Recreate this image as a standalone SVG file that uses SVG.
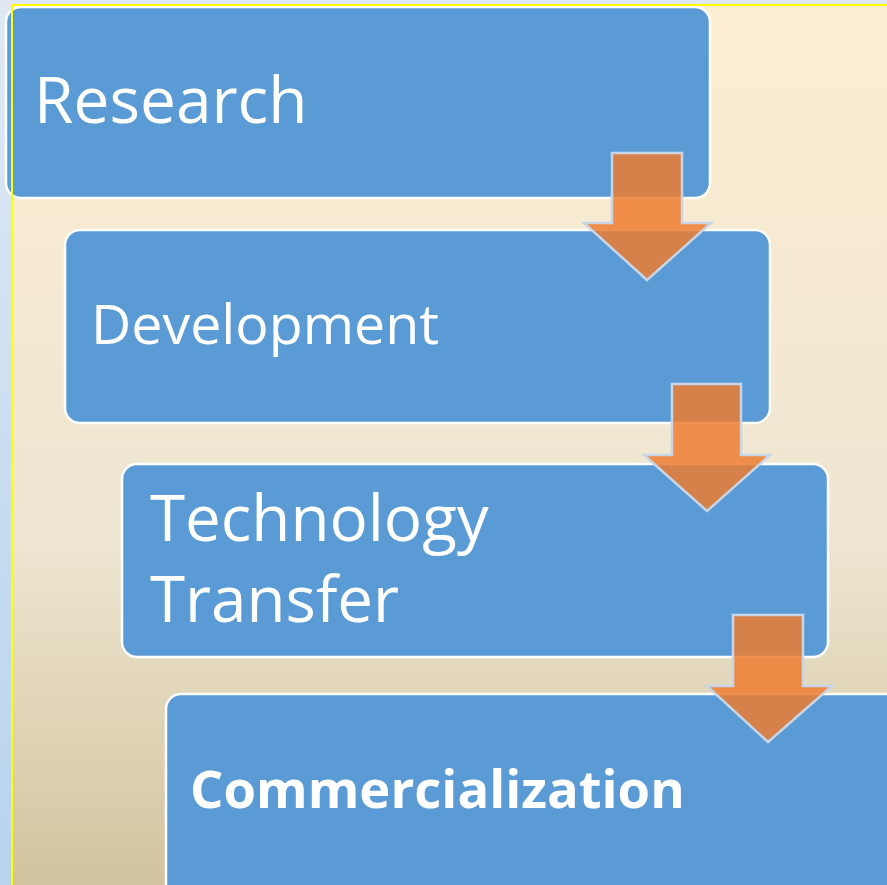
<svg xmlns="http://www.w3.org/2000/svg" width="887" height="885" viewBox="0 0 887 885">
<defs>
<linearGradient id="bg" x1="0" y1="0" x2="0" y2="1">
<stop offset="0" stop-color="#fdeed2"/>
<stop offset="0.6" stop-color="#eee6d2"/>
<stop offset="1" stop-color="#d2c49e"/>
</linearGradient>
<linearGradient id="side" x1="0" y1="0" x2="0" y2="1">
<stop offset="0" stop-color="#dfe9f4"/>
<stop offset="1" stop-color="#b7d3ee"/>
</linearGradient>
<style>
.box{fill:#5b9bd5;stroke:#ffffff;stroke-width:2.5}
.t{font-family:"Open Sans","DejaVu Sans",sans-serif;fill:#ffffff}
.arr{fill:#ed7d31;fill-opacity:0.85;stroke:#c8d5e6;stroke-width:2.5;stroke-linejoin:miter}
</style>
</defs>
<rect x="0" y="0" width="887" height="885" fill="url(#side)"/>
<rect x="0" y="0" width="887" height="6" fill="#dfe8f2"/>
<rect x="12" y="5" width="875" height="880" fill="url(#bg)"/>
<g id="research">
<rect class="box" x="6" y="7" width="704" height="191" rx="15"/>
<text class="t" x="34" y="123" font-size="64">Research</text>
</g>
<g id="development">
<rect class="box" x="65" y="230" width="705" height="193" rx="15"/>
<text class="t" x="91" y="344" font-size="55.5">Development</text>
</g>
<g id="techtransfer">
<rect class="box" x="122" y="464" width="706" height="193" rx="15"/>
<text class="t" x="150" y="541" font-size="63.7">Technology</text>
<text class="t" x="150" y="622" font-size="63.7">Transfer</text>
</g>
<g id="commercialization">
<rect class="box" x="166" y="694" width="740" height="210" rx="15"/>
<text class="t" x="190" y="808" font-size="52.6" font-weight="bold">Commercialization</text>
</g>
<g id="connectors">
<polygon class="arr" points="612,153 682,153 682,223 711,223 647,280 584,223 612,223"/>
<polygon class="arr" points="672,384 741,384 741,455 770,455 707,511 644,455 672,455"/>
<polygon class="arr" points="733,615 803,615 803,686 832,686 768,742 707,686 733,686"/>
</g>
<line x1="12" y1="5" x2="887" y2="5" stroke="#ffff00" stroke-width="2"/>
<line x1="12" y1="5" x2="12" y2="885" stroke="#ffff00" stroke-width="2"/>
</svg>
